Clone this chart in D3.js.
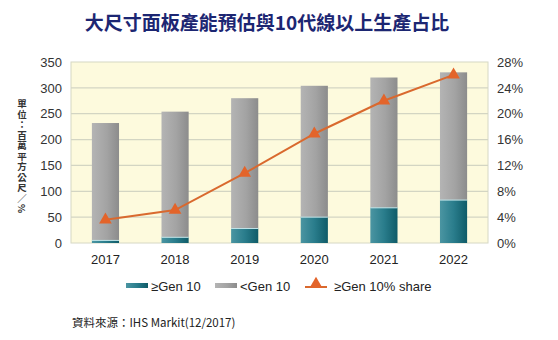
<!DOCTYPE html>
<html>
<head>
<meta charset="utf-8">
<script src="https://cdn.jsdelivr.net/npm/d3@7"></script>
<style>
  body { margin: 0; background: #fff; }
  text { font-family: "Liberation Sans", Arial, sans-serif; }
</style>
</head>
<body>
<div id="chart"></div>
<script>
// Chart data
var years = ["2017", "2018", "2019", "2020", "2021", "2022"];
var gen10 = [5, 11, 28, 50, 68, 83];
var below10 = [227, 243, 252, 254, 252, 247];
var share = [3.6, 5.1, 10.8, 16.9, 22.0, 26.0];
var leftTicks = [0, 50, 100, 150, 200, 250, 300, 350];
var rightTicks = [0, 4, 8, 12, 16, 20, 24, 28];

// Setup dimensions
var svgWidth = 558, svgHeight = 340;
var plot = { left: 71, right: 488, top: 62, bottom: 243 };

var svg = d3.select("#chart").append("svg")
  .attr("width", svgWidth)
  .attr("height", svgHeight);

// Gradients for bars
var defs = svg.append("defs");
function grad(id, stops) {
  var g = defs.append("linearGradient").attr("id", id)
    .attr("x1", "0%").attr("x2", "100%").attr("y1", "0%").attr("y2", "0%");
  stops.forEach(function(s) {
    g.append("stop").attr("offset", s[0]).attr("stop-color", s[1]);
  });
}
grad("greyGrad", [["0%", "#b4b4b4"], ["55%", "#a3a3a3"], ["100%", "#8c8c8c"]]);
grad("tealGrad", [["0%", "#4b95a2"], ["50%", "#2a7d8c"], ["100%", "#0f5b68"]]);

// Scales
var x = d3.scaleBand().domain(years).range([plot.left, plot.right])
  .paddingInner(0.61).paddingOuter(0.3);
var y = d3.scaleLinear().domain([0, 350]).range([plot.bottom, plot.top]);
var y2 = d3.scaleLinear().domain([0, 28]).range([plot.bottom, plot.top]);

// Plot background
svg.append("rect")
  .attr("x", plot.left).attr("y", plot.top)
  .attr("width", plot.right - plot.left).attr("height", plot.bottom - plot.top)
  .attr("fill", "#fdfadd").attr("stroke", "#d6d8c4").attr("stroke-width", 1);

// Gridlines
svg.append("g").selectAll("line").data(leftTicks.slice(1, -1)).enter().append("line")
  .attr("x1", plot.left).attr("x2", plot.right)
  .attr("y1", d => y(d)).attr("y2", d => y(d))
  .attr("stroke", "#d3d5c3").attr("stroke-width", 1.2);

// Title
svg.append("text")
  .attr("x", 267).attr("y", 30)
  .attr("text-anchor", "middle")
  .attr("font-size", 19).attr("font-weight", "bold")
  .attr("fill", "#1c2672")
  .style("font-family", "'Noto Sans CJK TC', sans-serif")
  .text("大尺寸面板產能預估與10代線以上生產占比");

// Left axis
var leftAxis = d3.axisLeft(y).tickValues(leftTicks).tickSize(0).tickPadding(9);
var gL = svg.append("g").attr("transform", `translate(${plot.left},0)`).call(leftAxis);
gL.select(".domain").remove();
gL.selectAll("text").attr("font-size", 13).attr("fill", "#333")
  .style("font-family", "'Liberation Sans', Arial, sans-serif");

// Right axis
var rightAxis = d3.axisRight(y2).tickValues(rightTicks).tickSize(0).tickPadding(9)
  .tickFormat(d => d + "%");
var gR = svg.append("g").attr("transform", `translate(${plot.right},0)`).call(rightAxis);
gR.select(".domain").remove();
gR.selectAll("text").attr("font-size", 13).attr("fill", "#333")
  .style("font-family", "'Liberation Sans', Arial, sans-serif");

// Bottom axis
var bottomAxis = d3.axisBottom(x).tickSize(0).tickPadding(12);
var gB = svg.append("g").attr("transform", `translate(0,${plot.bottom})`).call(bottomAxis);
gB.select(".domain").remove();
gB.selectAll("text").attr("font-size", 13).attr("fill", "#222")
  .style("font-family", "'Liberation Sans', Arial, sans-serif");

// Vertical unit label
svg.append("text")
  .attr("x", 22).attr("y", 99)
  .attr("font-size", 9.5).attr("font-weight", "bold").attr("fill", "#333")
  .style("font-family", "'Noto Sans CJK TC', sans-serif")
  .style("writing-mode", "vertical-rl")
  .style("letter-spacing", "1px")
  .text("單位：百萬平方公尺／%");

// Stacked bars
var bars = svg.append("g");
bars.selectAll("rect.low").data(years).enter().append("rect")
  .attr("class", "low")
  .attr("x", d => x(d)).attr("width", x.bandwidth())
  .attr("y", (d, i) => y(gen10[i] + below10[i]))
  .attr("height", (d, i) => y(gen10[i]) - y(gen10[i] + below10[i]))
  .attr("fill", "url(#greyGrad)");
bars.selectAll("rect.hi").data(years).enter().append("rect")
  .attr("class", "hi")
  .attr("x", d => x(d)).attr("width", x.bandwidth())
  .attr("y", (d, i) => y(gen10[i]))
  .attr("height", (d, i) => y(0) - y(gen10[i]))
  .attr("fill", "url(#tealGrad)");
bars.selectAll("line.sep").data(years).enter().append("line")
  .attr("class", "sep")
  .attr("x1", d => x(d)).attr("x2", d => x(d) + x.bandwidth())
  .attr("y1", (d, i) => y(gen10[i])).attr("y2", (d, i) => y(gen10[i]))
  .attr("stroke", "#bfe3e8").attr("stroke-width", 1);

// Share line
var line = d3.line()
  .x((d, i) => x(years[i]) + x.bandwidth() / 2)
  .y(d => y2(d));
svg.append("path").datum(share)
  .attr("d", line).attr("fill", "none")
  .attr("stroke", "#d9692e").attr("stroke-width", 2);

var tri = d3.symbol().type(d3.symbolTriangle).size(70);
svg.append("g").selectAll("path").data(share).enter().append("path")
  .attr("d", tri)
  .attr("transform", (d, i) => `translate(${x(years[i]) + x.bandwidth() / 2},${y2(d)})`)
  .attr("fill", "#e3642a");

// Legend
var leg = svg.append("g");
leg.append("rect").attr("x", 126).attr("y", 283).attr("width", 22).attr("height", 5)
  .attr("fill", "url(#tealGrad)");
leg.append("text").attr("x", 151).attr("y", 291).attr("font-size", 13).attr("fill", "#222")
  .text("≥Gen 10");
leg.append("rect").attr("x", 215).attr("y", 283).attr("width", 22).attr("height", 5)
  .attr("fill", "url(#greyGrad)");
leg.append("text").attr("x", 240).attr("y", 291).attr("font-size", 13).attr("fill", "#222")
  .text("<Gen 10");
leg.append("line").attr("x1", 305).attr("x2", 327).attr("y1", 287).attr("y2", 287)
  .attr("stroke", "#d9692e").attr("stroke-width", 2);
leg.append("path").attr("d", tri).attr("transform", "translate(316,284)").attr("fill", "#e3642a");
leg.append("text").attr("x", 334).attr("y", 291).attr("font-size", 13).attr("fill", "#222")
  .text("≥Gen 10% share");

// Source
svg.append("text")
  .attr("x", 72).attr("y", 327)
  .attr("font-size", 11.5).attr("fill", "#222")
  .style("font-family", "'Noto Sans CJK TC', sans-serif")
  .text("資料來源：IHS Markit(12/2017)");
</script>
</body>
</html>
